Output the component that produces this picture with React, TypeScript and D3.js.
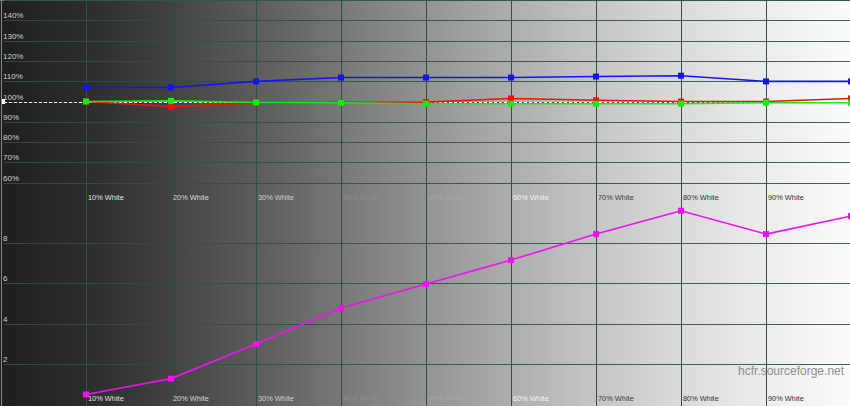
import React from "react";
import * as d3 from "d3";

const levels = [10, 20, 30, 40, 50, 60, 70, 80, 90, 100];
const levelLabels = ["10% White", "20% White", "30% White", "40% White", "50% White", "60% White", "70% White", "80% White", "90% White"];
const redLevels = [100.0, 97.5, 99.2, 99.6, 99.7, 101.5, 100.6, 100.0, 100.0, 101.5];
const greenLevels = [100.0, 100.3, 99.5, 99.4, 98.9, 98.9, 98.9, 98.9, 99.4, 99.4];
const blueLevels = [106.9, 106.9, 109.9, 111.8, 111.8, 111.8, 112.3, 112.7, 109.9, 109.9];
const deltaE = [0.52, 1.3, 3.0, 4.78, 5.96, 7.14, 8.42, 9.57, 8.42, 9.31];
const topTicks = [60, 70, 80, 90, 100, 110, 120, 130, 140];
const bottomTicks = [2, 4, 6, 8];

const W = 850;
const H = 406;
const labelColors = ["#e2e2e2", "#dcdcdc", "#cfcfcf", "#8e8e8e", "#a6a6a6", "#f2f2f2", "#3a3a3a", "#303030", "#303030"];
const gridColor = "#2e5048";

export default function App() {
  const x = d3.scaleLinear().domain([0, 100]).range([1, 851]);
  const yTop = d3.scaleLinear().domain([50, 150]).range([203, 0]);
  const yBot = d3.scaleLinear().domain([0, 10]).range([405, 202]);

  const lineTop = (vals: number[]) =>
    d3.line<number>().x((_, i) => x(levels[i])).y((v) => yTop(v))(vals) || "";
  const lineBot = d3.line<number>().x((_, i) => x(levels[i])).y((v) => yBot(v))(deltaE) || "";

  const series = [
    { vals: blueLevels, color: "#1414f0" },
    { vals: redLevels, color: "#f01010" },
    { vals: greenLevels, color: "#10f010" },
  ];

  const vgrid = levels.slice(0, 9);

  return (
    <div style={{ position: "fixed", left: 0, top: 0, width: W, height: H }}>
      <svg width={W} height={H} style={{ display: "block", fontFamily: "Arial, 'Liberation Sans', sans-serif" }}>
        <defs>
          <linearGradient id="bg" x1="0" x2="1" y1="0" y2="0">
            <stop offset="0" stopColor="#1e1e1e" />
            <stop offset="0.1" stopColor="#2c2c2c" />
            <stop offset="0.2" stopColor="#424242" />
            <stop offset="0.3" stopColor="#5c5c5c" />
            <stop offset="0.4" stopColor="#777777" />
            <stop offset="0.5" stopColor="#939393" />
            <stop offset="0.6" stopColor="#adadad" />
            <stop offset="0.7" stopColor="#c5c5c5" />
            <stop offset="0.8" stopColor="#dadada" />
            <stop offset="0.9" stopColor="#ececec" />
            <stop offset="1" stopColor="#fbfbfb" />
          </linearGradient>
        </defs>
        <rect x={0} y={0} width={W} height={H} fill="url(#bg)" />
        {/* borders */}
        <line x1={1.5} x2={1.5} y1={0} y2={H} stroke="#8a8a8a" strokeWidth={1} />
        <line x1={0} x2={W} y1={0.5} y2={0.5} stroke="#7a7a7a" strokeWidth={1} />
        {/* horizontal grid top */}
        {topTicks.concat([150]).map((t) => (
          <line key={"ht" + t} x1={4} x2={W} y1={Math.round(yTop(t)) + 0.5} y2={Math.round(yTop(t)) + 0.5} stroke={gridColor} strokeWidth={1} opacity={0.9} />
        ))}
        {bottomTicks.map((t) => (
          <line key={"hb" + t} x1={4} x2={W} y1={Math.round(yBot(t)) + 0.5} y2={Math.round(yBot(t)) + 0.5} stroke={gridColor} strokeWidth={1} opacity={0.9} />
        ))}
        {/* vertical grid */}
        {vgrid.map((l) => (
          <line key={"v" + l} x1={Math.round(x(l)) + 0.5} x2={Math.round(x(l)) + 0.5} y1={0} y2={H} stroke={gridColor} strokeWidth={1} />
        ))}
        {/* y tick labels */}
        {topTicks.map((t) => (
          <text key={"tl" + t} x={3} y={yTop(t) - 2} fontSize={8} fill="#d2d2d2">{t + "%"}</text>
        ))}
        {bottomTicks.map((t) => (
          <text key={"bl" + t} x={3} y={yBot(t) - 2} fontSize={8} fill="#d2d2d2">{t}</text>
        ))}
        {/* x labels */}
        {levelLabels.map((s, i) => (
          <text key={"xt" + i} x={x(levels[i]) + 2} y={200} fontSize={7.4} fill={labelColors[i]}>{s}</text>
        ))}
        {levelLabels.map((s, i) => (
          <text key={"xb" + i} x={x(levels[i]) + 2} y={401} fontSize={7.4} fill={labelColors[i]}>{s}</text>
        ))}
        {/* reference 100% dashed line */}
        <line x1={4} x2={W} y1={Math.round(yTop(100)) + 0.5} y2={Math.round(yTop(100)) + 0.5} stroke="#ffffff" strokeWidth={1} strokeDasharray="3,2" />
        <rect x={2} y={yTop(100) - 2.5} width={3} height={5} fill="#ffffff" />
        {/* RGB series */}
        {series.map((s, si) => (
          <g key={"s" + si}>
            <path d={lineTop(s.vals)} fill="none" stroke={s.color} strokeWidth={1.6} />
            {s.vals.map((v, i) => (
              <rect key={i} x={x(levels[i]) - 3} y={yTop(v) - 3} width={6} height={6} fill={s.color} />
            ))}
          </g>
        ))}
        {/* deltaE */}
        <path d={lineBot} fill="none" stroke="#f010f0" strokeWidth={1.6} />
        {deltaE.map((v, i) => (
          <rect key={"de" + i} x={x(levels[i]) - 3} y={yBot(v) - 3} width={6} height={6} fill="#f010f0" />
        ))}
        <text x={738} y={375} fontSize={12} fill="#8e8e8e">hcfr.sourceforge.net</text>
      </svg>
    </div>
  );
}
